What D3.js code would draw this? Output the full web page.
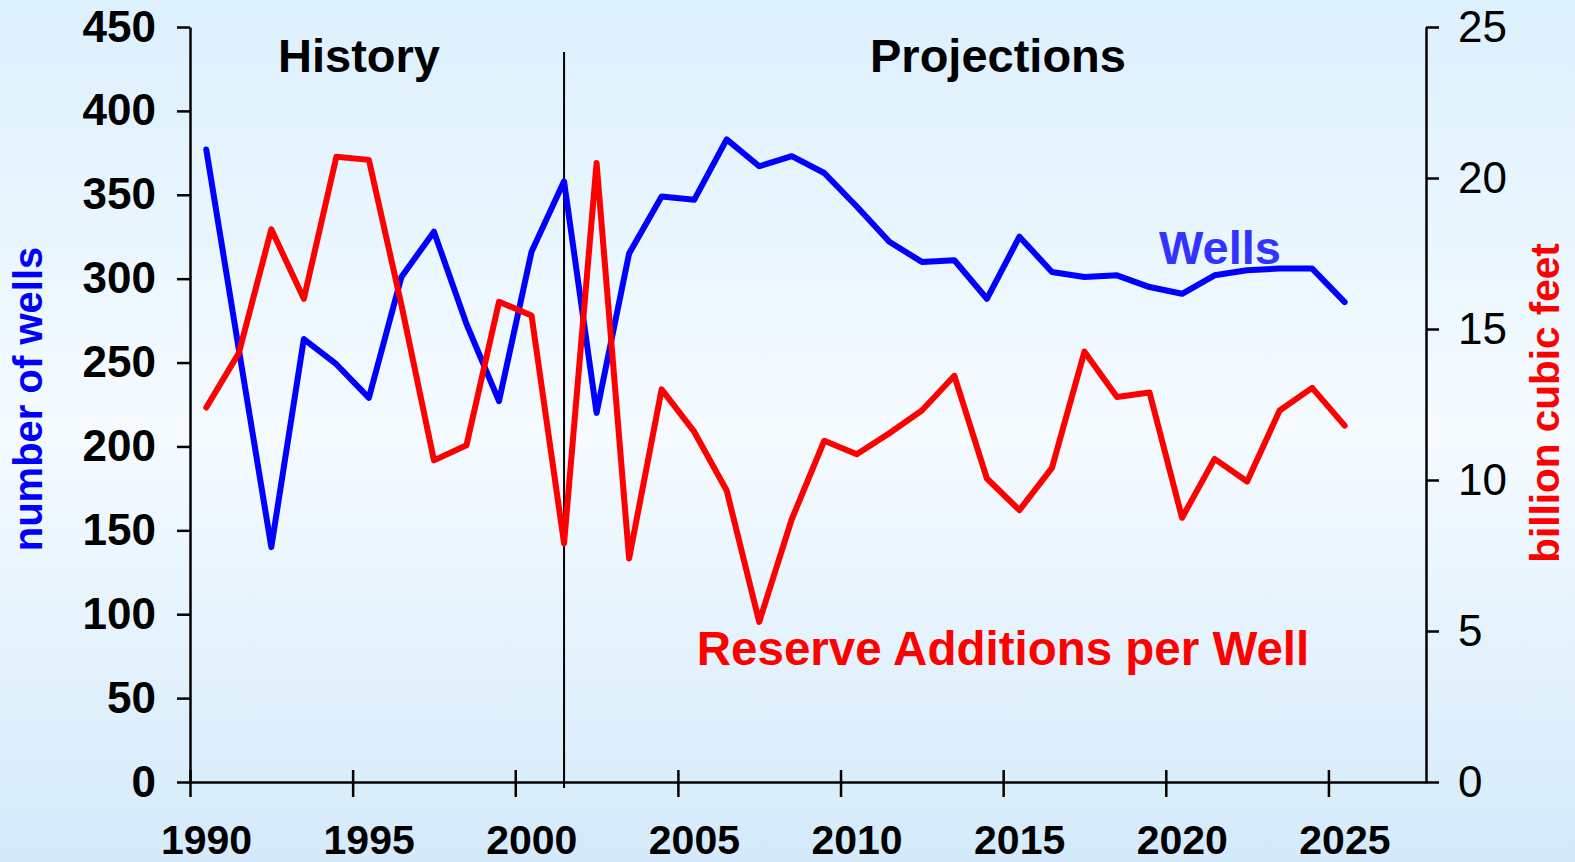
<!DOCTYPE html>
<html lang="en">
<head>
<meta charset="utf-8">
<title>Wells and Reserve Additions per Well</title>
<script src="https://cdn.jsdelivr.net/npm/d3@7"></script>
<style>
  html, body { margin: 0; padding: 0; }
  body { width: 1575px; height: 862px; overflow: hidden; }
  svg { display: block; font-family: "Liberation Sans", Arial, sans-serif; }
</style>
</head>
<body>
<svg id="chart" width="1575" height="862"></svg>
<script>
// years (each value plotted at mid-year)
const years = d3.range(1990, 2026);

// number of wells (left axis)
const wells = [377, 258, 140, 264, 249, 229, 301, 328, 273, 227,
               316, 358, 220, 315, 349, 347, 383, 367, 373, 363,
               343, 322, 310, 311, 288, 325, 304, 301, 302, 295,
               291, 302, 305, 306, 306, 286];

// reserve additions per well, billion cubic feet (right axis)
const reserves = [12.4, 14.2, 18.3, 16.0, 20.7, 20.6, 15.8, 10.65, 11.15, 15.9,
                  15.45, 7.9, 20.5, 7.4, 13.0, 11.6, 9.65, 5.3, 8.7, 11.3,
                  10.85, 11.55, 12.3, 13.45, 10.05, 9.0, 10.4, 14.25, 12.75, 12.9,
                  8.75, 10.7, 9.95, 12.3, 13.05, 11.8];

const xTicks = [1990, 1995, 2000, 2005, 2010, 2015, 2020, 2025];
const leftTicks = [0, 50, 100, 150, 200, 250, 300, 350, 400, 450];
const rightTicks = [0, 5, 10, 15, 20, 25];
const lastHistoryYear = 2001;

const svg = d3.select("#chart");

// background gradient
const grad = svg.append("defs").append("linearGradient")
  .attr("id", "bg").attr("x1", 0).attr("y1", 0).attr("x2", 0).attr("y2", 1);
grad.append("stop").attr("offset", "0%").attr("stop-color", "#dcf0fd");
grad.append("stop").attr("offset", "50%").attr("stop-color", "#f5fbff");
grad.append("stop").attr("offset", "100%").attr("stop-color", "#d4eafa");
svg.append("rect").attr("width", 1575).attr("height", 862).attr("fill", "url(#bg)");

const x = d3.scaleLinear().domain([1990, 2028]).range([190, 1426]);
const yL = d3.scaleLinear().domain([0, 450]).range([782, 27]);
const yR = d3.scaleLinear().domain([0, 25]).range([782, 27]);

// axes
const gx = svg.append("g").attr("transform", "translate(0,782)")
  .call(d3.axisBottom(x).tickValues(xTicks).tickFormat(d3.format("d"))
    .tickSize(15).tickPadding(28).tickSizeOuter(0));
gx.selectAll(".tick line").attr("y1", -12);

const gl = svg.append("g").attr("transform", "translate(190,0)")
  .call(d3.axisLeft(yL).tickValues(leftTicks).tickSize(13).tickPadding(21).tickSizeOuter(0));

const gr = svg.append("g").attr("transform", "translate(1426,0)")
  .call(d3.axisRight(yR).tickValues(rightTicks).tickSize(13).tickPadding(19).tickSizeOuter(0));

svg.selectAll(".domain, .tick line").attr("stroke", "#000").attr("stroke-width", 2.5);
gx.selectAll("text").attr("font-size", 41).attr("font-weight", "bold").attr("fill", "#000").attr("dx", 16);
gl.selectAll("text").attr("font-size", 44).attr("font-weight", "bold").attr("fill", "#000");
gr.selectAll("text").attr("font-size", 44).attr("fill", "#000");
svg.selectAll("g").attr("font-family", null);

// history / projections divider
svg.append("line")
  .attr("x1", x(lastHistoryYear + 0.5)).attr("x2", x(lastHistoryYear + 0.5))
  .attr("y1", 52).attr("y2", 788)
  .attr("stroke", "#000").attr("stroke-width", 2);

// series lines
const lineL = d3.line().x((d, i) => x(years[i] + 0.5)).y(d => yL(d));
const lineR = d3.line().x((d, i) => x(years[i] + 0.5)).y(d => yR(d));

svg.append("path").datum(wells).attr("d", lineL)
  .attr("fill", "none").attr("stroke", "#0000ff").attr("stroke-width", 6)
  .attr("stroke-linejoin", "round").attr("stroke-linecap", "round");
svg.append("path").datum(reserves).attr("d", lineR)
  .attr("fill", "none").attr("stroke", "#ff0000").attr("stroke-width", 6)
  .attr("stroke-linejoin", "round").attr("stroke-linecap", "round");

// labels
const label = (txt, px, py, size, color) => svg.append("text")
  .attr("x", px).attr("y", py).attr("text-anchor", "middle")
  .attr("font-size", size).attr("font-weight", "bold").attr("fill", color).text(txt);

label("History", 359, 72, 47, "#000");
label("Projections", 998, 72, 47, "#000");
label("Wells", 1220, 264, 47, "#3333ff");
label("Reserve Additions per Well", 1003, 665, 47.5, "#ff0000");

svg.append("text")
  .attr("transform", "translate(42,399) rotate(-90)")
  .attr("text-anchor", "middle").attr("font-size", 40).attr("font-weight", "bold")
  .attr("fill", "#0000ff").text("number of wells");

svg.append("text")
  .attr("transform", "translate(1559,403) rotate(-90)")
  .attr("text-anchor", "middle").attr("font-size", 40.5).attr("font-weight", "bold")
  .attr("fill", "#ff0000").text("billion cubic feet");
</script>
</body>
</html>
